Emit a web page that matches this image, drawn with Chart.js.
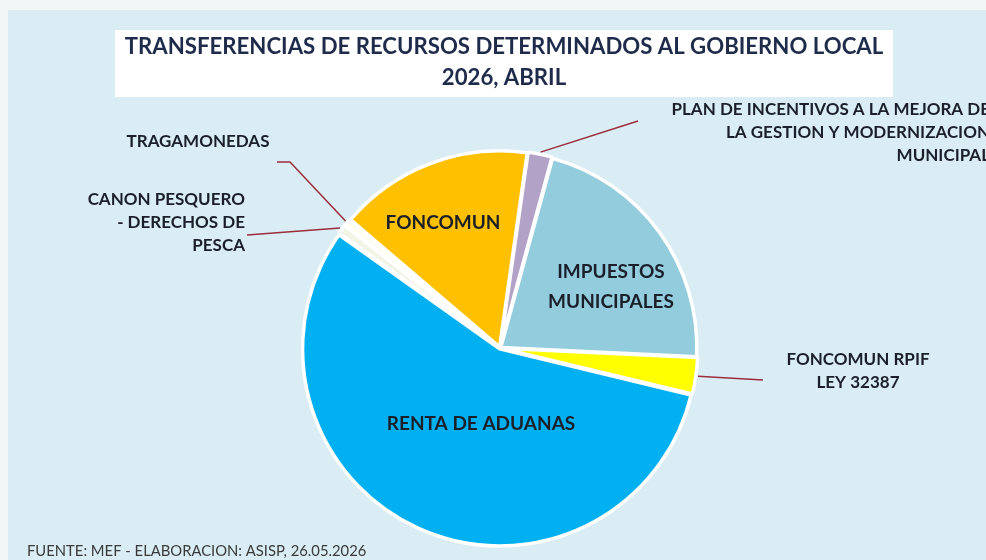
<!DOCTYPE html>
<html>
<head>
<meta charset="utf-8">
<script src="https://cdn.jsdelivr.net/npm/chart.js@4"></script>
<style>
  html, body { margin: 0; padding: 0; background: #f3f6f7; }
  #wrap { width: 986px; height: 560px; position: relative; }
</style>
</head>
<body>
<div id="wrap"><canvas id="pie" width="986" height="560"></canvas></div>
<script>
// Transferencias 2026, abril: participación por concepto (%).

const categorias = [
  "FONCOMUN",
  "PLAN DE INCENTIVOS A LA MEJORA DE LA GESTION Y MODERNIZACION MUNICIPAL",
  "IMPUESTOS MUNICIPALES",
  "FONCOMUN RPIF LEY 32387",
  "RENTA DE ADUANAS",
  "CANON PESQUERO - DERECHOS DE PESCA",
  "TRAGAMONEDAS",
];
const participacion = [16.0, 2.0, 21.5, 3.0, 56.1, 0.8, 0.6];
const colores = ["#FFC000", "#B3A2C7", "#93CDDD", "#FFFF00", "#00B0F0", "#F2F5E6", "#FFFDF0"];

const titulo = ["TRANSFERENCIAS DE RECURSOS DETERMINADOS AL GOBIERNO LOCAL", "2026, ABRIL"];
const fuente = "FUENTE: MEF - ELABORACION: ASISP, 26.05.2026";

// Etiquetas: líneas de texto y su colocación (relativa al centro de la torta).
const etiquetas = [
  { lines: ["FONCOMUN"], inside: true, dx: -57, dy: -125 },
  { lines: ["PLAN DE INCENTIVOS A LA MEJORA DE", "LA GESTION Y MODERNIZACION", "MUNICIPAL"],
    tx: 990, ty: 110, align: "right", lead: [[638, 121]] },
  { lines: ["IMPUESTOS", "MUNICIPALES"], inside: true, dx: 111, dy: -61 },
  { lines: ["FONCOMUN RPIF", "LEY 32387"], tx: 858, ty: 360, align: "center", lead: [[763, 380]] },
  { lines: ["RENTA DE ADUANAS"], inside: true, dx: -19, dy: 76 },
  { lines: ["CANON PESQUERO", "- DERECHOS DE", "PESCA"], tx: 245, ty: 200, align: "right",
    lead: [[247, 235]] },
  { lines: ["TRAGAMONEDAS"], tx: 198, ty: 142, align: "center", lead: [[277, 162], [290, 162]] },
];

const FONT = "Lato, 'Open Sans', sans-serif";

const fondo = {
  id: "fondo",
  beforeDraw(chart) {
    const c = chart.ctx;
    c.save();
    c.fillStyle = "#f3f6f7";
    c.fillRect(0, 0, 986, 560);
    c.fillStyle = "#DAEDF4";
    c.fillRect(8, 10, 978, 550);
    c.fillStyle = "#ffffff";
    c.fillRect(115, 30, 778, 67);
    c.fillStyle = "#1F2B4A";
    c.textAlign = "center";
    c.textBaseline = "middle";
    c.font = "bold 22.2px " + FONT;
    c.fillText(titulo[0], 504, 47);
    c.fillText(titulo[1], 504, 78);
    c.fillStyle = "#3a3a3a";
    c.textAlign = "left";
    c.font = "14.8px " + FONT;
    c.fillText(fuente, 27, 551);
    c.restore();
  },
};

const rotulos = {
  id: "rotulos",
  afterDatasetsDraw(chart) {
    const c = chart.ctx;
    const arcs = chart.getDatasetMeta(0).data;
    c.save();
    c.textBaseline = "middle";
    arcs.forEach((arc, i) => {
      const e = etiquetas[i];
      const p = arc.getProps(["x", "y", "startAngle", "endAngle", "outerRadius"], true);
      c.fillStyle = "#1b1f2a";
      if (e.inside) {
        c.font = "bold 19px " + FONT;
        c.textAlign = "center";
        e.lines.forEach((t, k) => c.fillText(t, p.x + e.dx, p.y + e.dy + (k - (e.lines.length - 1) / 2) * 30));
        return;
      }
      const mid = (p.startAngle + p.endAngle) / 2;
      const r = p.outerRadius + 4;
      const pts = [...e.lead, [p.x + Math.cos(mid) * r, p.y + Math.sin(mid) * r]];
      c.strokeStyle = "#9B2D3C";
      c.lineWidth = 1.5;
      c.beginPath();
      pts.forEach((q, k) => k ? c.lineTo(q[0], q[1]) : c.moveTo(q[0], q[1]));
      c.stroke();
      c.font = "bold 17px " + FONT;
      c.textAlign = e.align;
      e.lines.forEach((t, k) => c.fillText(t, e.tx, e.ty + k * 23));
    });
    c.restore();
  },
};

new Chart(document.getElementById("pie"), {
  type: "pie",
  data: {
    labels: categorias,
    datasets: [{
      data: participacion,
      backgroundColor: colores,
      borderColor: "#ffffff",
      borderWidth: 3.5,
      offset: 4,
      radius: 196,
    }],
  },
  options: {
    responsive: false,
    animation: false,
    rotation: -49.5,
    layout: { padding: { left: 14, top: 136, right: 0, bottom: 0 } },
    plugins: { legend: { display: false }, tooltip: { enabled: false }, title: { display: false } },
  },
  plugins: [fondo, rotulos],
});
</script>
</body>
</html>
